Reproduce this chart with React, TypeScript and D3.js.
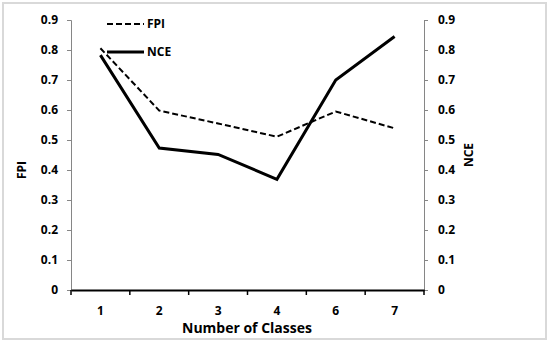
import * as d3 from 'd3'
import { useRef, useEffect } from 'react'

const classes = ['1', '2', '3', '4', '6', '7']
const fpiValues = [0.806, 0.598, 0.555, 0.511, 0.595, 0.539]
const nceValues = [0.783, 0.473, 0.452, 0.369, 0.7, 0.845]
const yTicks = [0, 0.1, 0.2, 0.3, 0.4, 0.5, 0.6, 0.7, 0.8, 0.9]

const App = () => {
  const chartRef = useRef<SVGSVGElement>(null)

  useEffect(() => {
    drawChart()
  }, [])

  const drawChart = () => {
    const width = 550
    const height = 344
    const margin = { top: 20, right: 126, bottom: 54, left: 71 }
    const font = "'Open Sans', 'DejaVu Sans', sans-serif"

    const svg = d3.select(chartRef.current)
    svg.selectAll('*').remove()
    svg.attr('width', width).attr('height', height)

    // outer frame
    svg
      .append('rect')
      .attr('x', 3)
      .attr('y', 3)
      .attr('width', 543)
      .attr('height', 336)
      .attr('fill', '#fff')
      .attr('stroke', '#d9d9d9')
      .attr('stroke-width', 2)

    const x = d3
      .scaleBand()
      .domain(classes)
      .range([margin.left, width - margin.right])
    const y = d3
      .scaleLinear()
      .domain([0, 0.9])
      .range([height - margin.bottom, margin.top])

    const fmt = (d: number) => (d === 0 ? '0' : d3.format('.1f')(d))

    // left axis
    const leftAxis = svg
      .append('g')
      .attr('transform', `translate(${margin.left},0)`)
      .call(d3.axisLeft(y).tickValues(yTicks).tickFormat(fmt as any).tickSizeOuter(0).tickSize(4).tickPadding(9))
    leftAxis.select('.domain').attr('stroke', '#868686')
    leftAxis.selectAll('.tick line').attr('stroke', '#868686')
    leftAxis
      .selectAll('.tick text')
      .attr('font-family', font)
      .attr('font-weight', 'bold')
      .attr('font-size', 12)
      .attr('fill', '#000')

    // right axis
    const rightAxis = svg
      .append('g')
      .attr('transform', `translate(${width - margin.right},0)`)
      .call(d3.axisRight(y).tickValues(yTicks).tickFormat(fmt as any).tickSizeOuter(0).tickSize(4).tickPadding(10))
    rightAxis.select('.domain').attr('stroke', '#868686')
    rightAxis.selectAll('.tick line').attr('stroke', '#868686')
    rightAxis
      .selectAll('.tick text')
      .attr('font-family', font)
      .attr('font-weight', 'bold')
      .attr('font-size', 12)
      .attr('fill', '#000')

    // bottom axis
    const xAxis = svg
      .append('g')
      .attr('transform', `translate(0,${height - margin.bottom})`)
      .call(d3.axisBottom(x).tickSize(0).tickPadding(16))
    xAxis.select('.domain').attr('stroke', '#000').attr('stroke-width', 2)
    xAxis
      .selectAll('.tick text')
      .attr('font-family', font)
      .attr('font-weight', 'bold')
      .attr('font-size', 12)
      .attr('fill', '#000')
    // ticks between categories
    const edges = classes.map((c) => x(c) as number).concat([width - margin.right])
    xAxis
      .selectAll('line.sep')
      .data(edges)
      .enter()
      .append('line')
      .attr('class', 'sep')
      .attr('x1', (d) => d)
      .attr('x2', (d) => d)
      .attr('y1', 0)
      .attr('y2', 5)
      .attr('stroke', '#000')
      .attr('stroke-width', 1.5)

    const cx = (d: number, i: number) => (x(classes[i]) as number) + x.bandwidth() / 2

    const line = d3
      .line<number>()
      .x((d, i) => cx(d, i))
      .y((d) => y(d))

    svg
      .append('path')
      .datum(fpiValues)
      .attr('d', line)
      .attr('fill', 'none')
      .attr('stroke', '#000')
      .attr('stroke-width', 2)
      .attr('stroke-dasharray', '6,3')

    svg
      .append('path')
      .datum(nceValues)
      .attr('d', line)
      .attr('fill', 'none')
      .attr('stroke', '#000')
      .attr('stroke-width', 3)

    // axis titles
    svg
      .append('text')
      .attr('transform', 'translate(26,170) rotate(-90)')
      .attr('text-anchor', 'middle')
      .attr('font-family', font)
      .attr('font-weight', 'bold')
      .attr('font-size', 12)
      .text('FPI')
    svg
      .append('text')
      .attr('transform', 'translate(473,155) rotate(-90)')
      .attr('text-anchor', 'middle')
      .attr('font-family', font)
      .attr('font-weight', 'bold')
      .attr('font-size', 12)
      .text('NCE')
    svg
      .append('text')
      .attr('x', 247)
      .attr('y', 333)
      .attr('text-anchor', 'middle')
      .attr('font-family', font)
      .attr('font-weight', 'bold')
      .attr('font-size', 14)
      .text('Number of Classes')

    // legend
    const legend = svg.append('g').attr('transform', 'translate(107,24)')
    const items = [
      { name: 'FPI', dash: '6,3', w: 2 },
      { name: 'NCE', dash: null, w: 3 }
    ]
    items.forEach((it, i) => {
      const g = legend.append('g').attr('transform', `translate(0,${i * 28})`)
      g.append('line')
        .attr('x1', 0)
        .attr('x2', 37)
        .attr('stroke', '#000')
        .attr('stroke-width', it.w)
        .attr('stroke-dasharray', it.dash)
      g.append('text')
        .attr('x', 40)
        .attr('dy', '0.35em')
        .attr('font-family', font)
        .attr('font-weight', 'bold')
        .attr('font-size', 12)
        .text(it.name)
    })
  }

  return (
    <div style={{ position: 'absolute', left: 0, top: 0 }}>
      <svg ref={chartRef}></svg>
    </div>
  )
}

export default App
